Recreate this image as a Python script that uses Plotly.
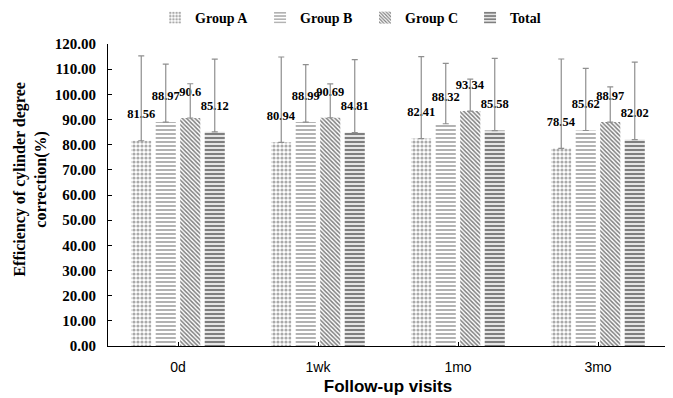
import plotly.graph_objects as go

categories = ["0d", "1wk", "1mo", "3mo"]
series_names = ["Group A", "Group B", "Group C", "Total"]
group_a = [81.56, 80.94, 82.41, 78.54]
group_b = [88.97, 88.99, 88.32, 85.62]
group_c = [90.6, 90.69, 93.34, 88.97]
total = [85.12, 84.81, 85.58, 82.02]
err_a = [33.7, 33.9, 32.6, 35.5]
err_b = [23.0, 22.8, 24.0, 24.7]
err_c = [13.6, 13.5, 12.7, 14.0]
err_t = [28.9, 29.0, 28.7, 30.8]

values = [group_a, group_b, group_c, total]
errors = [err_a, err_b, err_c, err_t]
patterns = [
    dict(shape=".", fgcolor="#555555", bgcolor="white", size=4, solidity=0.5, fillmode="overlay"),
    dict(shape="-", fgcolor="#000000", bgcolor="white", size=4, solidity=0.3, fillmode="overlay"),
    dict(shape="\\", fgcolor="#000000", bgcolor="white", size=3, solidity=0.5, fillmode="overlay"),
    dict(shape="-", fgcolor="#000000", bgcolor="white", size=4, solidity=0.6, fillmode="overlay"),
]

serif = "Liberation Serif"
sans = "Liberation Sans"

fig = go.Figure()
for name, vals, errs, pat in zip(series_names, values, errors, patterns):
    fig.add_trace(go.Bar(
        x=categories, y=vals, name=name,
        marker=dict(color="white", pattern=pat, line=dict(width=0)),
        error_y=dict(type="data", symmetric=False, array=errs, arrayminus=[0] * len(errs),
                     color="#8f8f8f", thickness=1.2, width=3),
        text=[f"{v:g}<br> " for v in vals], textposition="outside",
        textfont=dict(family=serif, size=12.5, color="black", weight="bold"),
        constraintext="none", cliponaxis=False,
    ))

fig.update_layout(
    width=665, height=390,
    margin=dict(l=100, r=5, t=36, b=52, autoexpand=False),
    paper_bgcolor="white", plot_bgcolor="white",
    barmode="group", bargap=0.3, bargroupgap=0.18,
    showlegend=True,
    legend=dict(orientation="h", x=0.084, y=1.086, xanchor="left", yanchor="middle",
                font=dict(family=serif, size=14, color="black", weight="bold"),
                entrywidth=60, itemwidth=30, bgcolor="rgba(0,0,0,0)"),
    uniformtext=dict(mode=False),
)
fig.update_xaxes(
    showline=True, linecolor="black", linewidth=1,
    ticks="inside", ticklen=4, tickcolor="black", ticklabelstandoff=8,
    tickfont=dict(family=sans, size=14, color="black"),
    title=dict(text="Follow-up visits", font=dict(family=sans, size=17, color="black", weight="bold"), standoff=6),
)
fig.update_yaxes(
    range=[0, 120], dtick=10, tickformat=".2f",
    showline=True, linecolor="black", linewidth=1, showgrid=False, zeroline=False,
    ticks="inside", ticklen=4, tickcolor="black", ticklabelstandoff=8,
    tickfont=dict(family=serif, size=15, color="black", weight="bold"),
)
fig.add_annotation(
    text="Efficiency of cylinder degree<br>correction(%)",
    xref="paper", yref="paper", x=-0.138, y=0.55, xanchor="center", yanchor="middle",
    textangle=-90, showarrow=False,
    font=dict(family=serif, size=16, color="black", weight="bold"),
)

fig.write_html("out.html")
